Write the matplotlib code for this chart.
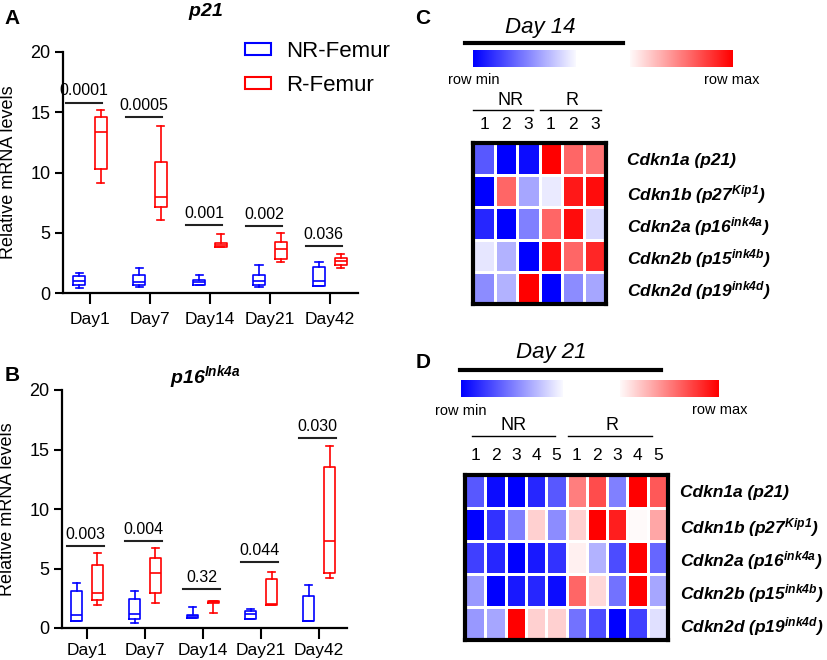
import numpy as np
import matplotlib
matplotlib.use("Agg")
import matplotlib.pyplot as plt
from matplotlib.colors import LinearSegmentedColormap
from matplotlib.lines import Line2D
from matplotlib.patches import Patch

plt.rcParams["font.family"] = "Liberation Sans"
plt.rcParams["mathtext.fontset"] = "custom"
for k in ["rm", "it", "bf", "sf"]:
    plt.rcParams["mathtext." + k] = "Liberation Sans:italic:bold"

# ---- data ----
days = ["Day1", "Day7", "Day14", "Day21", "Day42"]

# p21 (panel A) box stats: whisker low, q1, median, q3, whisker high
p21_nr_lo = [0.45, 0.52, 0.69, 0.50, 0.55]
p21_nr_q1 = [0.66, 0.66, 0.69, 0.69, 0.55]
p21_nr_med = [1.02, 0.89, 0.88, 0.97, 1.02]
p21_nr_q3 = [1.41, 1.49, 1.05, 1.49, 2.12]
p21_nr_hi = [1.63, 2.10, 1.49, 2.29, 2.54]

p21_r_lo = [9.16, 6.07, 3.80, 2.57, 2.07]
p21_r_q1 = [10.26, 7.12, 3.80, 2.81, 2.34]
p21_r_med = [13.32, 8.00, 4.00, 3.64, 2.62]
p21_r_q3 = [14.57, 10.84, 4.12, 4.22, 2.90]
p21_r_hi = [15.17, 13.85, 4.87, 4.97, 3.26]

p21_pvals = ["0.0001", "0.0005", "0.001", "0.002", "0.036"]
p21_bar_y = [15.8, 14.57, 5.66, 5.52, 3.92]

# p16Ink4a (panel B)
p16_nr_lo = [0.62, 0.45, 0.84, 0.76, 0.56]
p16_nr_q1 = [0.62, 0.76, 0.84, 0.76, 0.56]
p16_nr_med = [1.12, 1.20, 0.98, 1.20, 0.56]
p16_nr_q3 = [3.08, 2.43, 1.12, 1.40, 2.66]
p16_nr_hi = [3.78, 3.08, 1.76, 1.62, 3.58]

p16_r_lo = [1.90, 2.10, 1.26, 1.96, 4.20]
p16_r_q1 = [2.32, 2.94, 2.10, 1.96, 4.62]
p16_r_med = [2.94, 4.62, 2.17, 2.00, 7.27]
p16_r_q3 = [5.31, 5.85, 2.24, 4.11, 13.50]
p16_r_hi = [6.29, 6.69, 2.29, 4.70, 15.30]

p16_pvals = ["0.003", "0.004", "0.32", "0.044", "0.030"]
p16_bar_y = [6.9, 7.33, 3.27, 5.54, 15.94]

genes = [r"Cdkn1a (p21)", r"Cdkn1b (p27$^{Kip1}$)", r"Cdkn2a (p16$^{ink4a}$)",
         r"Cdkn2b (p15$^{ink4b}$)", r"Cdkn2d (p19$^{ink4d}$)"]

# heatmaps, row-normalised (-1 = row min, 1 = row max)
day14_cols = ["1", "2", "3", "1", "2", "3"]
day14 = [
    [-0.65, -1.00, -0.95, 1.00, 0.60, 0.55],
    [-1.00, 0.60, -0.35, -0.08, 0.90, 0.95],
    [-0.85, -1.00, -0.50, 0.60, 0.95, -0.15],
    [-0.10, -0.30, -1.00, 0.95, 0.60, 0.85],
    [-0.45, -0.30, 1.00, -1.00, -0.45, -0.35],
]
day21_cols = ["1", "2", "3", "4", "5", "1", "2", "3", "4", "5"]
day21 = [
    [-0.65, -0.95, -1.00, -0.85, -0.65, 0.50, 0.70, -0.50, 1.00, 0.65],
    [-1.00, -0.80, -0.50, 0.18, -0.45, 0.18, 1.00, 0.88, 0.02, 0.35],
    [-0.75, -0.85, -1.00, -0.90, -0.80, 0.06, -0.30, -0.70, 1.00, -0.60],
    [-0.40, -1.00, -0.90, -0.85, -0.95, 0.60, 0.15, -0.55, 1.00, -0.35],
    [-0.40, -0.35, 1.00, 0.18, 0.18, -0.55, -0.70, -1.00, -0.75, -0.12],
]

# ---- layout helpers (pixel -> figure coords) ----
W, H = 827, 660
fig = plt.figure(figsize=(W / 100, H / 100), dpi=100)


def fx(x):
    return x / W


def fy(y):
    return 1 - y / H


def ax_px(x0, y0, x1, y1):
    return fig.add_axes([fx(x0), fy(y1), (x1 - x0) / W, (y1 - y0) / H])


def hline(x0, x1, y, lw):
    fig.add_artist(Line2D([fx(x0), fx(x1)], [fy(y), fy(y)],
                          transform=fig.transFigure, color="black", lw=lw))


BLUE, RED = "#0000ff", "#ff0000"


def stats(lo, q1, med, q3, hi):
    return [dict(whislo=a, q1=b, med=c, q3=d, whishi=e, fliers=[])
            for a, b, c, d, e in zip(lo, q1, med, q3, hi)]


def box_panel(ax, nr, r, pvals, bar_y, xlim, bar_span, xpad):
    pos = np.arange(len(days))
    for st, off, c in [(nr, -0.18, BLUE), (r, 0.18, RED)]:
        lp = dict(color=c, lw=1.2)
        ax.bxp(st, positions=pos + off, widths=0.2, capwidths=0.12,
               showfliers=False, boxprops=lp, whiskerprops=lp,
               capprops=lp, medianprops=lp, manage_ticks=False)
    for i, (p, y) in enumerate(zip(pvals, bar_y)):
        a, b = bar_span
        ax.plot([i + a, i + b], [y, y], color="#222222", lw=1.5)
        ax.text(i + (a + b) / 2, y + 0.35, p, ha="center", va="bottom",
                fontsize=11.5)
    ax.set_xlim(*xlim)
    ax.set_ylim(0, 20)
    ax.set_yticks([0, 5, 10, 15, 20])
    ax.set_xticks(pos, days)
    ax.spines[["top", "right"]].set_visible(False)
    for s in ["left", "bottom"]:
        ax.spines[s].set_linewidth(1.6)
    ax.tick_params(axis="y", labelsize=13, length=6, width=1.5, pad=3)
    ax.tick_params(axis="x", labelsize=12.5, length=8, width=1.5, pad=xpad)
    ax.set_ylabel("Relative mRNA levels", fontsize=13)


# ---- panel A ----
axA = ax_px(63, 52, 358, 293)
box_panel(axA, stats(p21_nr_lo, p21_nr_q1, p21_nr_med, p21_nr_q3, p21_nr_hi),
          stats(p21_r_lo, p21_r_q1, p21_r_med, p21_r_q3, p21_r_hi),
          p21_pvals, p21_bar_y, (-0.45, 4.47), (-0.4, 0.2), 6)
axA.yaxis.set_label_coords(-0.155, 0.5)
fig.legend(handles=[Patch(facecolor="none", edgecolor=BLUE, lw=1.5, label="NR-Femur"),
                    Patch(facecolor="none", edgecolor=RED, lw=1.5, label="R-Femur")],
           loc="upper left", bbox_to_anchor=(fx(245), fy(41)), frameon=False,
           fontsize=16, borderpad=0, borderaxespad=0, handlelength=1.15,
           handleheight=0.45, handletextpad=0.7, labelspacing=0.6)
fig.text(fx(205), fy(12), r"$p21$", fontsize=14, ha="center", va="center")
fig.text(fx(12), fy(19), "A", fontsize=15, fontweight="bold", ha="center", va="center")

# ---- panel B ----
axB = ax_px(62, 390, 347, 628)
box_panel(axB, stats(p16_nr_lo, p16_nr_q1, p16_nr_med, p16_nr_q3, p16_nr_hi),
          stats(p16_r_lo, p16_r_q1, p16_r_med, p16_r_q3, p16_r_hi),
          p16_pvals, p16_bar_y, (-0.43, 4.48), (-0.34, 0.29), 3)
axB.yaxis.set_label_coords(-0.16, 0.5)
fig.text(fx(205), fy(377), r"$p16^{Ink4a}$", fontsize=14, ha="center", va="center")
fig.text(fx(12), fy(375), "B", fontsize=15, fontweight="bold", ha="center", va="center")

# ---- heatmaps ----
cmap = LinearSegmentedColormap.from_list("bwr_pure", [BLUE, "white", RED])


def color_bar(x0, x1, y0, y1, lo, hi):
    ax = ax_px(x0, y0, x1, y1)
    ax.imshow(np.linspace(lo, hi, 256)[None, :], cmap=cmap, vmin=-1, vmax=1,
              aspect="auto")
    ax.axis("off")


def heat(box, vals, cols, xpad, ypad):
    ax = ax_px(*box)
    v = np.array(vals)
    ax.pcolormesh(v, cmap=cmap, vmin=-1, vmax=1, edgecolors="white", linewidth=2)
    ax.set_xlim(0, v.shape[1])
    ax.set_ylim(v.shape[0], 0)
    ax.xaxis.tick_top()
    ax.yaxis.tick_right()
    ax.set_xticks(np.arange(v.shape[1]) + 0.5, cols, fontsize=12.5)
    ax.set_yticks(np.arange(v.shape[0]) + 0.5, genes, fontsize=12.5,
                  fontweight="bold", fontstyle="italic")
    ax.tick_params(axis="x", length=0, pad=ypad)
    ax.tick_params(axis="y", length=0, pad=xpad)
    for s in ax.spines.values():
        s.set_linewidth(3)


# panel C
fig.text(fx(540), fy(28), "Day 14", fontsize=16, fontstyle="italic",
         ha="center", va="center")
hline(465, 623, 43, 3)
color_bar(473, 576, 50, 67, -1, -0.02)
color_bar(630, 733, 50, 67, 0.02, 1)
fig.text(fx(448), fy(80), "row min", fontsize=10.5, ha="left", va="center")
fig.text(fx(759), fy(80), "row max", fontsize=10.5, ha="right", va="center")
fig.text(fx(511), fy(109), "NR", fontsize=13, ha="center", va="bottom")
fig.text(fx(572), fy(109), "R", fontsize=13, ha="center", va="bottom")
hline(473, 533, 110, 1)
hline(540, 601, 110, 1)
heat((473, 143, 606, 304), day14, day14_cols, 15, 8)
fig.text(fx(423), fy(18), "C", fontsize=15, fontweight="bold", ha="center", va="center")

# panel D
fig.text(fx(551), fy(353), "Day 21", fontsize=16, fontstyle="italic",
         ha="center", va="center")
hline(460, 661, 370, 3)
color_bar(461, 563, 380, 397, -1, -0.02)
color_bar(620, 719, 380, 397, 0.02, 1)
fig.text(fx(435), fy(411), "row min", fontsize=10.5, ha="left", va="center")
fig.text(fx(747), fy(410), "row max", fontsize=10.5, ha="right", va="center")
fig.text(fx(514), fy(434), "NR", fontsize=13, ha="center", va="bottom")
fig.text(fx(612), fy(434), "R", fontsize=13, ha="center", va="bottom")
hline(472, 555, 436, 1)
hline(568, 652, 436, 1)
heat((465, 475, 668, 640), day21, day21_cols, 9, 9)
fig.text(fx(423), fy(362), "D", fontsize=15, fontweight="bold", ha="center", va="center")

fig.savefig("out.png", dpi=100)
